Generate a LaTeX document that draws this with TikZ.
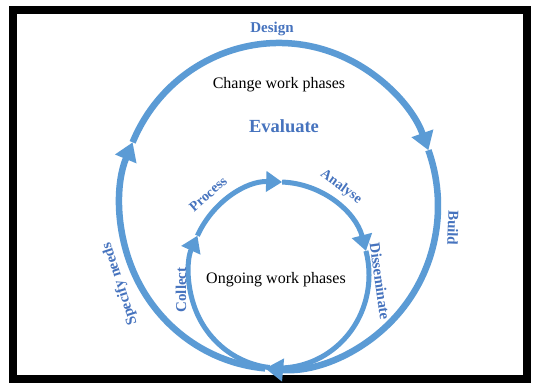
\documentclass[tikz,border=0pt]{standalone}
\usepackage{fontspec}
\setmainfont{Liberation Serif}
\usetikzlibrary{arrows.meta}
\definecolor{arcblue}{RGB}{91,155,213}
\definecolor{labblue}{RGB}{70,115,190}
\tikzset{
  outerarc/.style={draw=arcblue,line width=6.5pt},
  innerarc/.style={draw=arcblue,line width=5pt},
  tipo/.style={-{Triangle[length=18pt,width=22pt]}},
  tipi/.style={-{Triangle[length=16pt,width=20pt]}},
  lab/.style={text=labblue,font=\bfseries\fontsize{15}{18}\selectfont,inner sep=0pt},
  plain/.style={text=black,font=\fontsize{16}{19}\selectfont,inner sep=0pt}
}
\begin{document}
\begin{tikzpicture}[x=1pt,y=-1pt]
\useasboundingbox (0,0) rectangle (537,383);
\fill[white] (0,0) rectangle (537,383);
\draw[line width=8pt] (13,10) rectangle (527,379);
% outer cycle, centre (279,206), radii 159 x 163
\coordinate (oc) at (279,206);
\draw[outerarc,tipo] ([shift={(95:159 and 163)}]oc) arc[start angle=95,end angle=203,x radius=159,y radius=163];
\draw[outerarc,tipo] ([shift={(203:159 and 163)}]oc) arc[start angle=203,end angle=340,x radius=159,y radius=163];
\draw[outerarc,tipo] ([shift={(340:159 and 163)}]oc) arc[start angle=340,end angle=455,x radius=159,y radius=163];
% inner cycle, centre (279,275), radii 90 x 93
\coordinate (ic) at (279,275);
\draw[innerarc,tipi] ([shift={(96:90 and 93)}]ic) arc[start angle=96,end angle=205,x radius=90,y radius=93];
\draw[innerarc,tipi] ([shift={(205:90 and 93)}]ic) arc[start angle=205,end angle=272,x radius=90,y radius=93];
\draw[innerarc,tipi] ([shift={(272:90 and 93)}]ic) arc[start angle=272,end angle=345,x radius=90,y radius=93];
\draw[innerarc] ([shift={(345:90 and 93)}]ic) arc[start angle=345,end angle=452,x radius=90,y radius=93];
% labels
\node[lab] (design) at (272,29) {Design};
\node[plain] (change) at (279,85) {Change work phases};
\node[lab,font=\bfseries\fontsize{18.5}{22}\selectfont] (evaluate) at (284,126) {Evaluate};
\node[lab,font=\bfseries\fontsize{14}{17}\selectfont,rotate=41] (process) at (208,194) {Process};
\node[lab,font=\bfseries\fontsize{14}{17}\selectfont,rotate=-36] (analyse) at (341,187) {Analyse};
\node[lab,rotate=108] (specify) at (120,284) {Specify needs};
\node[lab,rotate=90] (collect) at (181,290) {Collect};
\node[lab,rotate=-82] (dissem) at (380,281) {Disseminate};
\node[lab,rotate=-92] (build) at (453,228) {Build};
\node[plain] (ongoing) at (276,280) {Ongoing work phases};
\end{tikzpicture}
\end{document}
